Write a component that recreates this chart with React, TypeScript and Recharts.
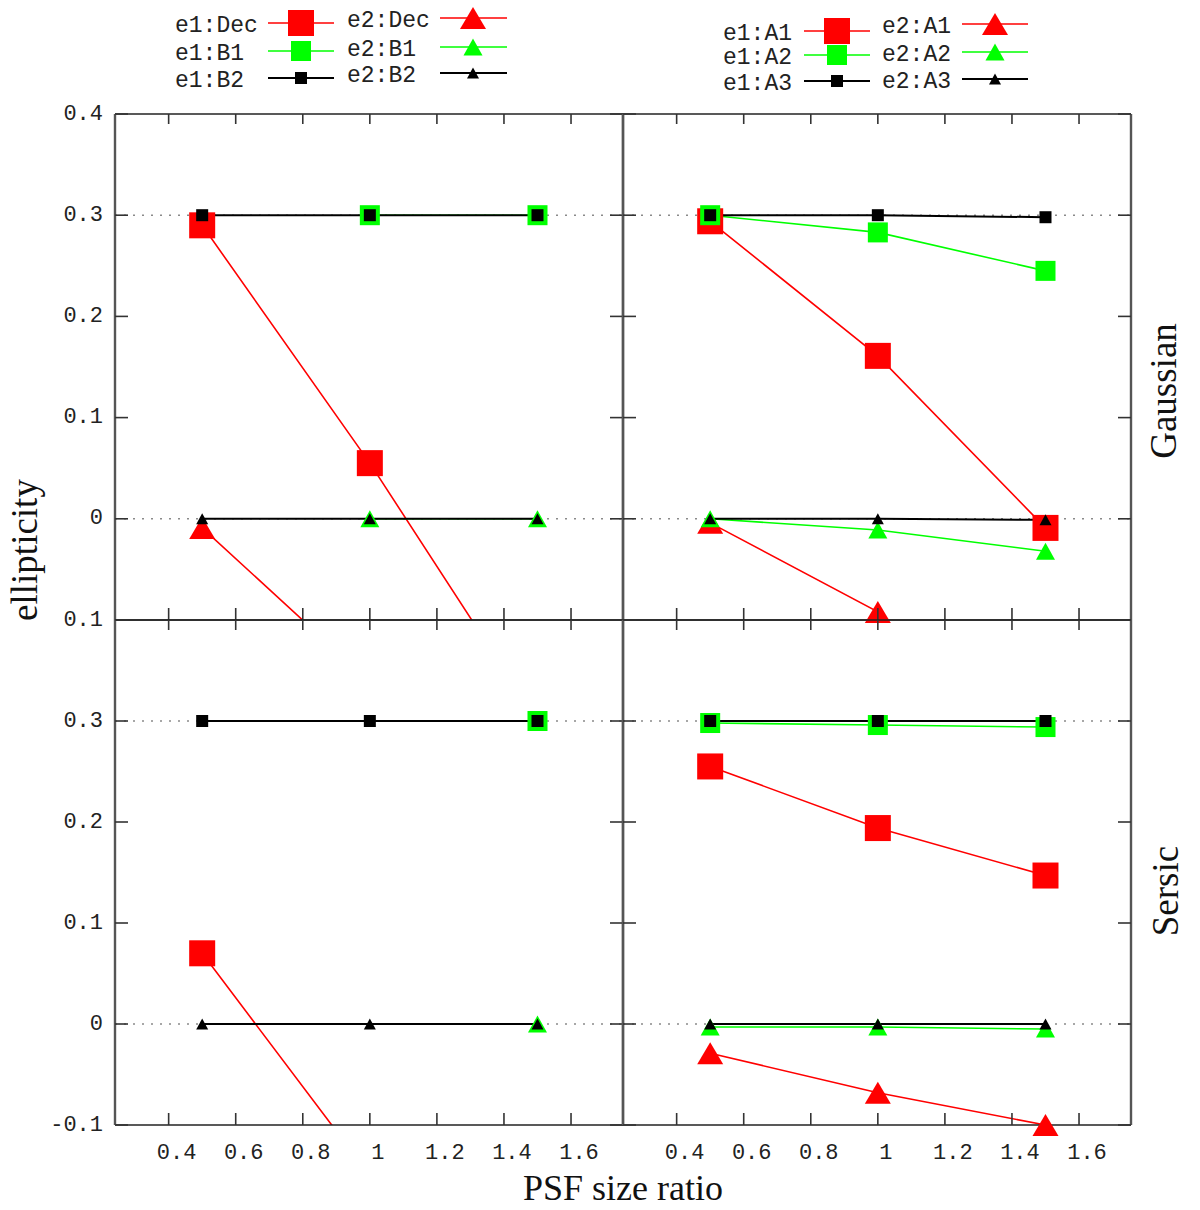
import React from "react";
import { ComposedChart, Line, XAxis, YAxis, ReferenceLine } from "recharts";

// PSF size ratio of the three runs
const PSF = [0.5, 1.0, 1.5];

const X_TICKS = [0.4, 0.6, 0.8, 1, 1.2, 1.4, 1.6];
const X_LABELS = ["0.4", "0.6", "0.8", "1", "1.2", "1.4", "1.6"];
const Y_TICKS = [-0.1, 0, 0.1, 0.2, 0.3, 0.4];
// the upper panels print the -0.1 tick without its sign
const TOP_Y_LABELS = ["0.1", "0", "0.1", "0.2", "0.3", "0.4"];
const BOTTOM_Y_LABELS = ["-0.1", "0", "0.1", "0.2", "0.3", ""];
const GRID_Y = [0.3, 0];

// Gaussian, Dec / B1 / B2
const gaussDecE1 = [0.29, 0.055, -0.2];
const gaussDecE2 = [-0.009, -0.161, -0.3];
const gaussB1E1 = [null, 0.3, 0.3];
const gaussB1E2 = [null, 0, 0];
const gaussB2E1 = [0.3, 0.3, 0.3];
const gaussB2E2 = [0, 0, 0];

// Gaussian, A1 / A2 / A3
const gaussA1E1 = [0.294, 0.161, -0.009];
const gaussA1E2 = [-0.004, -0.092, -0.3];
const gaussA2E1 = [0.3, 0.283, 0.245];
const gaussA2E2 = [0, -0.011, -0.032];
const gaussA3E1 = [0.3, 0.3, 0.298];
const gaussA3E2 = [0, 0, -0.001];

// Sersic, Dec / B1 / B2
const sersicDecE1 = [0.07, -0.15, -0.37];
const sersicDecE2 = [-0.2, -0.35, -0.5];
const sersicB1E1 = [null, null, 0.3];
const sersicB1E2 = [null, null, 0];
const sersicB2E1 = [0.3, 0.3, 0.3];
const sersicB2E2 = [0, 0, 0];

// Sersic, A1 / A2 / A3
const sersicA1E1 = [0.255, 0.194, 0.147];
const sersicA1E2 = [-0.029, -0.068, -0.1];
const sersicA2E1 = [0.298, 0.296, 0.294];
const sersicA2E2 = [-0.003, -0.003, -0.005];
const sersicA3E1 = [0.3, 0.3, 0.3];
const sersicA3E2 = [0, 0, 0];

const PAGE_W = 1200;
const PAGE_H = 1210;
const PANEL_W = 508;
const AX = 1; // thickness reserved for each axis
const X_DOMAIN = [0.24, 1.755];
const Y_DOMAIN = [-0.1, 0.4];

const LOOK: any = {
  red: { color: "#ff0000", width: 1.6, sq: 26, triW: 26, triH: 22 },
  green: { color: "#00ff00", width: 1.6, sq: 20, triW: 19, triH: 17 },
  black: { color: "#000000", width: 2, sq: 12, triW: 12, triH: 11 },
};

const LEFT_METHODS_G = [
  { name: "Dec", kind: "red", e1: gaussDecE1, e2: gaussDecE2 },
  { name: "B1", kind: "green", e1: gaussB1E1, e2: gaussB1E2 },
  { name: "B2", kind: "black", e1: gaussB2E1, e2: gaussB2E2 },
];
const RIGHT_METHODS_G = [
  { name: "A1", kind: "red", e1: gaussA1E1, e2: gaussA1E2 },
  { name: "A2", kind: "green", e1: gaussA2E1, e2: gaussA2E2 },
  { name: "A3", kind: "black", e1: gaussA3E1, e2: gaussA3E2 },
];
const LEFT_METHODS_S = [
  { name: "Dec", kind: "red", e1: sersicDecE1, e2: sersicDecE2 },
  { name: "B1", kind: "green", e1: sersicB1E1, e2: sersicB1E2 },
  { name: "B2", kind: "black", e1: sersicB2E1, e2: sersicB2E2 },
];
const RIGHT_METHODS_S = [
  { name: "A1", kind: "red", e1: sersicA1E1, e2: sersicA1E2 },
  { name: "A2", kind: "green", e1: sersicA2E1, e2: sersicA2E2 },
  { name: "A3", kind: "black", e1: sersicA3E1, e2: sersicA3E2 },
];

const PANELS = [
  { id: "gl", left: 115, top: 114, height: 506, methods: LEFT_METHODS_G, yLabels: TOP_Y_LABELS, showX: false },
  { id: "gr", left: 623, top: 114, height: 506, methods: RIGHT_METHODS_G, yLabels: null, showX: false },
  { id: "sl", left: 115, top: 620, height: 505, methods: LEFT_METHODS_S, yLabels: BOTTOM_Y_LABELS, showX: true },
  { id: "sr", left: 623, top: 620, height: 505, methods: RIGHT_METHODS_S, yLabels: null, showX: true },
];

const TICK_FONT = { fontFamily: "'Liberation Mono', 'DejaVu Sans Mono', monospace", fontSize: 22, fill: "#222" };
const TITLE_FONT = { fontFamily: "'Liberation Serif', 'DejaVu Serif', serif", fontSize: 37, fill: "#111" };
const H_AXIS = { stroke: "#222", strokeWidth: 1.6 };
const V_AXIS = { stroke: "#555", strokeWidth: 2.4 };

function buildSeries(methods: any[]) {
  const e1 = methods.map((m) => ({ key: `e1${m.name}`, label: `e1:${m.name}`, kind: m.kind, shape: "square", values: m.e1 }));
  const e2 = methods.map((m) => ({ key: `e2${m.name}`, label: `e2:${m.name}`, kind: m.kind, shape: "triangle", values: m.e2 }));
  return [...e1, ...e2];
}

const inRange = (v: number | null) => v != null && v >= Y_DOMAIN[0] - 1e-9 && v <= Y_DOMAIN[1] + 1e-9;

function Marker({ cx, cy, shape, kind }: any) {
  const l = LOOK[kind];
  if (shape === "square") {
    return <rect x={cx - l.sq / 2} y={cy - l.sq / 2} width={l.sq} height={l.sq} fill={l.color} />;
  }
  const pts = `${cx},${cy - l.triH / 2} ${cx + l.triW / 2},${cy + l.triH / 2} ${cx - l.triW / 2},${cy + l.triH / 2}`;
  return <polygon points={pts} fill={l.color} />;
}

function yTick(side: "l" | "r", labels: string[] | null) {
  return (props: any) => {
    const { x, y, payload } = props;
    const i = Y_TICKS.indexOf(payload.value);
    const dir = side === "l" ? 1 : -1;
    return (
      <g>
        <line x1={x} y1={y} x2={x + dir * 13} y2={y} stroke="#333" strokeWidth={1.6} />
        {labels && labels[i] ? (
          <text x={x - 12} y={y} textAnchor="end" dominantBaseline="central" {...TICK_FONT}>
            {labels[i]}
          </text>
        ) : null}
      </g>
    );
  };
}

function xTick(side: "b" | "t", showLabels: boolean) {
  return (props: any) => {
    const { x, y, payload } = props;
    const i = X_TICKS.indexOf(payload.value);
    const len = side === "b" ? -12 : 10;
    return (
      <g>
        <line x1={x} y1={y} x2={x} y2={y + len} stroke="#333" strokeWidth={1.6} />
        {showLabels && side === "b" ? (
          <text x={x + 8} y={y + 28} textAnchor="middle" dominantBaseline="central" {...TICK_FONT}>
            {X_LABELS[i]}
          </text>
        ) : null}
      </g>
    );
  };
}

function Panel({ panel }: any) {
  const series = buildSeries(panel.methods);
  const rows = PSF.map((x, i) => {
    const r: any = { x };
    series.forEach((s) => {
      const v = s.values[i];
      r[s.key] = v;
      r[`${s.key}_m`] = inRange(v) ? v : null;
    });
    return r;
  });
  const margin = {
    left: panel.left - AX,
    top: panel.top - AX,
    right: PAGE_W - panel.left - PANEL_W - AX,
    bottom: PAGE_H - panel.top - panel.height - AX,
  };
  return (
    <div style={{ position: "absolute", left: 0, top: 0 }}>
      <ComposedChart width={PAGE_W} height={PAGE_H} data={rows} margin={margin}>
        <XAxis xAxisId="b" dataKey="x" type="number" domain={X_DOMAIN} ticks={X_TICKS} interval={0}
          height={AX} tickSize={0} tickMargin={0} tickLine={false} axisLine={H_AXIS} tick={xTick("b", panel.showX)} />
        <XAxis xAxisId="t" orientation="top" dataKey="x" type="number" domain={X_DOMAIN} ticks={X_TICKS} interval={0}
          height={AX} tickSize={0} tickMargin={0} tickLine={false} axisLine={H_AXIS} tick={xTick("t", false)} />
        <YAxis yAxisId="l" type="number" domain={Y_DOMAIN} allowDataOverflow ticks={Y_TICKS} interval={0}
          width={AX} tickSize={0} tickMargin={0} tickLine={false} axisLine={V_AXIS} tick={yTick("l", panel.yLabels)} />
        <YAxis yAxisId="r" orientation="right" type="number" domain={Y_DOMAIN} ticks={Y_TICKS} interval={0}
          width={AX} tickSize={0} tickMargin={0} tickLine={false} axisLine={V_AXIS} tick={yTick("r", null)} />
        {GRID_Y.map((g) => (
          <ReferenceLine key={`g${g}`} xAxisId="b" yAxisId="l" y={g} stroke="#8a8a8a" strokeWidth={1.5} strokeDasharray="2 7" />
        ))}
        {series.map((s) => {
          const l = LOOK[s.kind];
          return [
            <Line key={`${s.key}-line`} xAxisId="b" yAxisId="l" dataKey={s.key} stroke={l.color} strokeWidth={l.width}
              dot={false} activeDot={false} isAnimationActive={false} />,
            <Line key={`${s.key}-mark`} xAxisId="b" yAxisId="r" dataKey={`${s.key}_m`} stroke="none" strokeWidth={0}
              activeDot={false} isAnimationActive={false}
              dot={(p: any) =>
                p.value == null || p.cy == null ? (
                  <g key={`${s.key}-d${p.index}`} />
                ) : (
                  <g key={`${s.key}-d${p.index}`}>
                    <Marker cx={p.cx} cy={p.cy} shape={s.shape} kind={s.kind} />
                  </g>
                )
              } />,
          ];
        })}
      </ComposedChart>
    </div>
  );
}

// legend columns: text x, line start/end, marker x, row line y
const LEGENDS = [
  { methods: LEFT_METHODS_G, cols: [
    { e: "e1", shape: "square", tx: 175, x1: 268, x2: 334, mx: 301, ys: [23, 51, 78] },
    { e: "e2", shape: "triangle", tx: 347, x1: 440, x2: 507, mx: 473, ys: [18, 47, 73] },
  ] },
  { methods: RIGHT_METHODS_G, cols: [
    { e: "e1", shape: "square", tx: 723, x1: 804, x2: 870, mx: 837, ys: [31, 55, 81] },
    { e: "e2", shape: "triangle", tx: 882, x1: 962, x2: 1028, mx: 995, ys: [24, 52, 79] },
  ] },
];

function Overlay() {
  return (
    <svg width={PAGE_W} height={PAGE_H} style={{ position: "absolute", left: 0, top: 0, pointerEvents: "none" }}>
      {LEGENDS.map((lg, li) =>
        lg.cols.map((c) =>
          lg.methods.map((m, ri) => {
            const l = LOOK[m.kind];
            const y = c.ys[ri];
            return (
              <g key={`${li}${c.e}${m.name}`}>
                <text x={c.tx} y={y + 3} dominantBaseline="central" {...TICK_FONT} fontSize={23}>
                  {`${c.e}:${m.name}`}
                </text>
                <line x1={c.x1} y1={y} x2={c.x2} y2={y} stroke={l.color} strokeWidth={l.width} />
                <Marker cx={c.mx} cy={y} shape={c.shape} kind={m.kind} />
              </g>
            );
          })
        )
      )}
      <text x={24} y={550} transform="rotate(-90 24 550)" textAnchor="middle" dominantBaseline="central" {...TITLE_FONT}>
        ellipticity
      </text>
      <text x={623} y={1188} textAnchor="middle" dominantBaseline="central" {...TITLE_FONT} fontSize={36}>
        PSF size ratio
      </text>
      <text x={1163} y={391} transform="rotate(-90 1163 391)" textAnchor="middle" dominantBaseline="central" {...TITLE_FONT}>
        Gaussian
      </text>
      <text x={1165} y={891} transform="rotate(-90 1165 891)" textAnchor="middle" dominantBaseline="central" {...TITLE_FONT}>
        Sersic
      </text>
    </svg>
  );
}

export default function App() {
  return (
    <div style={{ position: "absolute", left: 0, top: 0, width: PAGE_W, height: PAGE_H, background: "#fff" }}>
      {PANELS.map((p) => (
        <Panel key={p.id} panel={p} />
      ))}
      <Overlay />
    </div>
  );
}
